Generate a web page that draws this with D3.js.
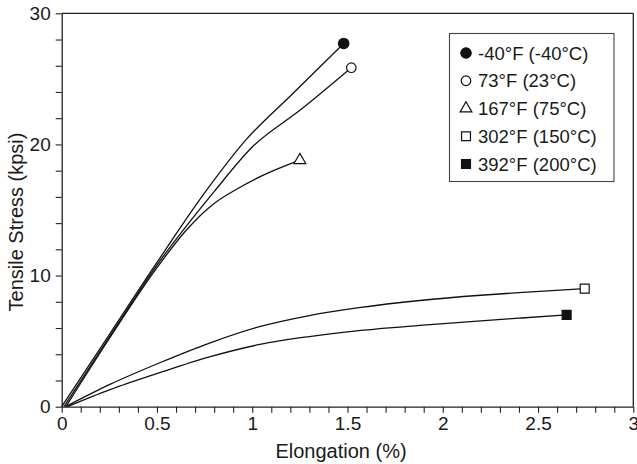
<!DOCTYPE html>
<html>
<head>
<meta charset="utf-8">
<script src="https://cdn.jsdelivr.net/npm/d3@7"></script>
<style>
html,body{margin:0;padding:0;background:#fff;}
svg{display:block;}
text{font-family:"Liberation Sans",Arial,Helvetica,sans-serif;fill:#1a1a1a;}
</style>
</head>
<body>
<svg id="chart" width="637" height="464"></svg>
<script>
// ---- data ----
const seriesLabels = ["-40°F (-40°C)", "73°F (23°C)", "167°F (75°C)", "302°F (150°C)", "392°F (200°C)"];
const seriesSymbols = ["circleFilled", "circleOpen", "triangleOpen", "squareOpen", "squareFilled"];

const elong_m40 = [0, 0.25, 0.5, 0.75, 0.97, 1.2, 1.48];
const stress_m40 = [0, 5.5, 11.0, 16.3, 20.4, 23.7, 27.7];

const elong_73 = [0.012, 0.25, 0.5, 0.8, 1.0, 1.25, 1.52];
const stress_73 = [0, 5.3, 10.8, 16.4, 19.8, 22.6, 25.85];

const elong_167 = [0.022, 0.25, 0.5, 0.65, 0.8, 0.92, 1.05, 1.25];
const stress_167 = [0, 5.2, 10.6, 13.4, 15.5, 16.6, 17.6, 18.8];

const elong_302 = [0.02, 0.253, 0.515, 0.776, 1.038, 1.3, 1.56, 1.88, 2.2, 2.4, 2.745];
const stress_302 = [0, 1.7, 3.35, 4.85, 6.1, 6.95, 7.55, 8.1, 8.5, 8.7, 9.0];

const elong_392 = [0.03, 0.253, 0.515, 0.776, 1.04, 1.3, 1.56, 1.88, 2.2, 2.4, 2.65];
const stress_392 = [0, 1.3, 2.6, 3.8, 4.75, 5.35, 5.8, 6.2, 6.55, 6.75, 7.0];

const xMajorTicks = [0, 0.5, 1, 1.5, 2, 2.5, 3];
const xTickLabels = ["0", "0.5", "1", "1.5", "2", "2.5", "3"];
const xMinorTicks = [0.1,0.2,0.3,0.4,0.6,0.7,0.8,0.9,1.1,1.2,1.3,1.4,1.6,1.7,1.8,1.9,2.1,2.2,2.3,2.4,2.6,2.7,2.8,2.9];
const yMajorTicks = [0, 10, 20, 30];
const yMinorTicks = [2,4,6,8,12,14,16,18,22,24,26,28];

const xTitle = "Elongation (%)";
const yTitle = "Tensile Stress (kpsi)";

// ---- layout ----
const svg = d3.select("#chart");
const W = 637, H = 464;
const m = {left: 61.7, right: 3.7, top: 13.3, bottom: 57.3};
const x = d3.scaleLinear().domain([0, 3]).range([m.left, W - m.right]);
const y = d3.scaleLinear().domain([0, 30]).range([H - m.bottom, m.top]);
const axisColor = "#222";

const seriesX = [elong_m40, elong_73, elong_167, elong_302, elong_392];
const seriesY = [stress_m40, stress_73, stress_167, stress_302, stress_392];
const series = seriesLabels.map((lab, i) => ({
  label: lab, sym: seriesSymbols[i],
  pts: seriesX[i].map((v, j) => [v, seriesY[i][j]])
}));

// frame (top & right)
svg.append("line").attr("x1", x(0)).attr("x2", x(3)).attr("y1", y(30)).attr("y2", y(30))
  .attr("stroke", axisColor).attr("stroke-width", 1.3);
svg.append("line").attr("x1", x(3)).attr("x2", x(3)).attr("y1", y(30)).attr("y2", y(0))
  .attr("stroke", axisColor).attr("stroke-width", 1.3);

function styleAxis(g) {
  g.select(".domain").attr("stroke", axisColor).attr("stroke-width", 1.3);
  g.selectAll(".tick line").attr("stroke", axisColor).attr("stroke-width", 1.1);
  g.selectAll(".tick text").attr("fill", "#1a1a1a").style("font-size", "19px")
    .style("font-family", "'Liberation Sans', Arial, sans-serif");
}

// x axis
const gxMinor = svg.append("g").attr("transform", `translate(0,${y(0)})`)
  .call(d3.axisBottom(x).tickValues(xMinorTicks).tickSize(6).tickFormat(""));
gxMinor.select(".domain").remove();
gxMinor.selectAll(".tick line").attr("stroke", axisColor).attr("stroke-width", 1.1);
const gx = svg.append("g").attr("transform", `translate(0,${y(0)})`)
  .call(d3.axisBottom(x).tickValues(xMajorTicks).tickSize(6).tickSizeOuter(0).tickPadding(4)
    .tickFormat((d, i) => xTickLabels[i]));
styleAxis(gx);

// y axis
const gyMinor = svg.append("g").attr("transform", `translate(${x(0)},0)`)
  .call(d3.axisLeft(y).tickValues(yMinorTicks).tickSize(6).tickFormat(""));
gyMinor.select(".domain").remove();
gyMinor.selectAll(".tick line").attr("stroke", axisColor).attr("stroke-width", 1.1);
const gy = svg.append("g").attr("transform", `translate(${x(0)},0)`)
  .call(d3.axisLeft(y).tickValues(yMajorTicks).tickSize(6).tickSizeOuter(0).tickPadding(5)
    .tickFormat(d3.format("d")));
styleAxis(gy);

// titles
svg.append("text").attr("x", 341).attr("y", 458)
  .attr("text-anchor", "middle").style("font-size", "20px").text(xTitle);
svg.append("text").attr("transform", `translate(23,222) rotate(-90)`)
  .attr("text-anchor", "middle").style("font-size", "20px").text(yTitle);

// curves
const line = d3.line().x(d => x(d[0])).y(d => y(d[1])).curve(d3.curveMonotoneX);
svg.append("g").selectAll("path").data(series).join("path")
  .attr("d", d => line(d.pts)).attr("fill", "none")
  .attr("stroke", "#111").attr("stroke-width", 1.3);

// markers
function drawMarker(g, sym, cx, cy) {
  const filled = sym.endsWith("Filled");
  let type = d3.symbolCircle, size = 85;
  if (sym.startsWith("triangle")) { type = d3.symbolTriangle; size = 60; }
  if (sym.startsWith("square")) { type = d3.symbolSquare; size = 80; }
  if (sym === "circleOpen") size = 72;
  g.append("path").attr("d", d3.symbol().type(type).size(size)())
    .attr("transform", `translate(${cx},${cy})`)
    .attr("fill", filled ? "#111" : "#fff")
    .attr("stroke", "#111").attr("stroke-width", 1.2);
}
const gm = svg.append("g");
series.forEach(s => {
  const p = s.pts[s.pts.length - 1];
  drawMarker(gm, s.sym, x(p[0]), y(p[1]));
});

// legend
const lg = svg.append("g");
lg.append("rect").attr("x", 449.5).attr("y", 33.5).attr("width", 164.5).attr("height", 148)
  .attr("fill", "#fff").attr("stroke", "#444").attr("stroke-width", 1.1);
const rowY = d3.scalePoint().domain(seriesLabels).range([53, 164]);
series.forEach(s => {
  const cy = rowY(s.label);
  drawMarker(lg, s.sym, 466, cy);
  lg.append("text").attr("x", 478).attr("y", cy).attr("dy", "0.36em")
    .style("font-size", "18.5px").text(s.label);
});
</script>
</body>
</html>
